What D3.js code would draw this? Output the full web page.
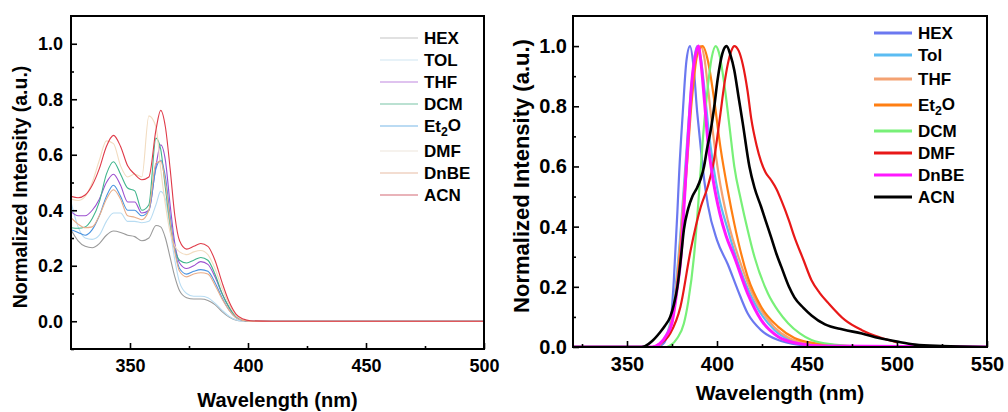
<!DOCTYPE html>
<html>
<head>
<meta charset="UTF-8">
<title>Absorption / emission</title>
<script src="https://d3js.org/d3.v7.min.js"></script>
<style>
body { margin: 0; background: #fff; }
text { font-family: "Liberation Sans", Arial, sans-serif; font-weight: bold; fill: #000; }
</style>
</head>
<body>
<svg width="1008" height="412"></svg>
<script>
// ---- left panel: absorption (wavelength grid shared by all solvents)
var absWl = [325,328,331,334,337,340,343,346,349,352,355,358,361,363,365,367,369,371,374,377,380,383,386,389,392,395,398,401,410,450,500];
var absHEX = [0.33,0.29,0.27,0.265,0.28,0.31,0.325,0.32,0.31,0.305,0.29,0.30,0.345,0.34,0.30,0.23,0.16,0.11,0.085,0.08,0.08,0.075,0.06,0.035,0.015,0.004,0.001,0,0,0,0];
var absTOL = [0.43,0.34,0.30,0.295,0.31,0.36,0.39,0.39,0.36,0.36,0.355,0.36,0.42,0.468,0.44,0.33,0.22,0.14,0.10,0.09,0.09,0.085,0.065,0.04,0.018,0.005,0.001,0,0,0,0];
var absTHF = [0.395,0.38,0.38,0.40,0.44,0.50,0.53,0.49,0.43,0.43,0.39,0.40,0.56,0.636,0.58,0.42,0.28,0.21,0.19,0.20,0.215,0.205,0.16,0.10,0.05,0.015,0.004,0,0,0,0];
var absDCM = [0.337,0.335,0.34,0.37,0.43,0.53,0.575,0.53,0.48,0.47,0.40,0.42,0.66,0.62,0.48,0.35,0.26,0.22,0.21,0.22,0.23,0.22,0.17,0.10,0.05,0.015,0.004,0,0,0,0];
var absEt2O = [0.33,0.32,0.31,0.33,0.38,0.45,0.49,0.45,0.40,0.40,0.38,0.40,0.55,0.58,0.52,0.38,0.26,0.19,0.17,0.18,0.186,0.18,0.14,0.085,0.04,0.012,0.003,0,0,0,0];
var absDMF = [0.44,0.435,0.45,0.50,0.58,0.65,0.64,0.56,0.52,0.53,0.52,0.74,0.70,0.55,0.42,0.32,0.27,0.25,0.24,0.25,0.255,0.24,0.19,0.12,0.06,0.02,0.005,0,0,0,0];
var absDnBE = [0.373,0.35,0.337,0.34,0.38,0.44,0.474,0.44,0.38,0.375,0.366,0.40,0.57,0.576,0.50,0.36,0.25,0.18,0.16,0.17,0.175,0.17,0.13,0.08,0.04,0.012,0.003,0,0,0,0];
var absACN = [0.45,0.445,0.455,0.49,0.55,0.63,0.67,0.63,0.56,0.53,0.51,0.52,0.69,0.76,0.70,0.55,0.38,0.29,0.26,0.27,0.28,0.27,0.22,0.14,0.07,0.025,0.008,0.002,0,0,0];
var absNames = ["HEX","TOL","THF","DCM","Et2O","DMF","DnBE","ACN"];
var absColors = ["#9a9a9a","#b8dcf2","#9c4fcf","#3fb58c","#4a93e0","#f2dcc0","#e9ad88","#df3a48"];
var absLegend = ["#c4c4c4","#cfe6f2","#c088e0","#78c4a6","#78b8e8","#ede6dc","#e8bca4","#d46874"];

// ---- right panel: emission, [wavelength, intensity]
var emHEX = [[320,0],[366,0],[370,0.01],[372,0.03],[374,0.067],[376,0.22],[378,0.45],[379,0.58],[381,0.78],[383,0.95],[385,1.0],[387,0.93],[389,0.78],[390,0.72],[393,0.55],[395,0.47],[400,0.355],[406,0.275],[411.5,0.19],[417,0.112],[424.5,0.056],[434,0.023],[445,0.008],[460,0.002],[480,0],[550,0]];
var emTol = [[320,0],[366,0],[370,0.02],[374,0.08],[377,0.2],[380,0.4],[383,0.65],[386,0.88],[388,0.98],[389,1.0],[391,0.96],[393,0.86],[395,0.74],[398,0.6],[401,0.5],[406,0.39],[413,0.256],[421,0.145],[432,0.056],[440,0.025],[450,0.01],[470,0.002],[550,0]];
var emTHF = [[320,0],[366,0],[370,0.02],[374,0.07],[377,0.18],[380,0.38],[383,0.62],[386,0.85],[389,0.98],[391,1.0],[393,0.96],[395,0.86],[398,0.7],[401,0.57],[406,0.42],[413,0.28],[421,0.16],[432,0.065],[440,0.03],[450,0.012],[470,0.003],[550,0]];
var emEt2O = [[320,0],[366,0],[370,0.02],[374,0.06],[377,0.16],[380,0.35],[383,0.58],[386,0.82],[389,0.97],[392,1.0],[395,0.95],[398,0.84],[402,0.66],[406,0.52],[409.6,0.41],[417,0.234],[424.5,0.134],[434,0.067],[443,0.03],[455,0.012],[470,0.004],[500,0],[550,0]];
var emDCM = [[320,0],[372,0],[374,0.005],[378,0.03],[381.6,0.078],[384,0.15],[387.2,0.3],[390,0.51],[392,0.68],[394.7,0.854],[397,0.96],[399.3,1.0],[401,0.98],[404,0.876],[407,0.73],[409.6,0.6],[413.3,0.488],[417,0.39],[420.8,0.3],[428.3,0.178],[434,0.12],[439.5,0.079],[446,0.045],[452.5,0.023],[465,0.008],[480,0.002],[550,0]];
var emDMF = [[320,0],[364,0],[368,0.01],[374,0.045],[379.7,0.134],[385.3,0.32],[391,0.466],[394.7,0.53],[398,0.61],[400,0.69],[402,0.78],[404,0.87],[406,0.94],[408,0.985],[409.6,1.0],[412,0.985],[414.3,0.94],[417,0.85],[419,0.76],[422,0.67],[424.5,0.616],[427,0.58],[430,0.555],[433,0.525],[435.7,0.488],[440,0.42],[443,0.366],[448,0.29],[452.5,0.222],[457,0.18],[462,0.145],[471,0.09],[480.5,0.056],[490,0.033],[500,0.015]];
var emDnBE = [[320,0],[364,0],[368,0.01],[372,0.04],[375,0.08],[378,0.2],[380,0.3],[382,0.5],[384,0.7],[386,0.88],[388,0.97],[389.6,1.0],[391,0.95],[393,0.82],[395,0.68],[398,0.55],[401.6,0.443],[405,0.37],[409.6,0.3],[417,0.178],[424.5,0.09],[434,0.034],[445,0.012],[460,0.003],[550,0]];
var emACN = [[320,0],[358,0],[360,0.003],[364,0.02],[368.5,0.05],[371,0.07],[374,0.10],[376,0.14],[378,0.20],[380,0.3],[381.6,0.39],[384,0.46],[386.3,0.5],[389,0.53],[391,0.56],[392.8,0.6],[394.5,0.66],[396.5,0.72],[398.5,0.8],[400.3,0.887],[403,0.976],[405.3,1.0],[407.5,0.97],[409.6,0.92],[412,0.83],[414.3,0.744],[418,0.6],[420.8,0.53],[424.5,0.466],[427,0.42],[430,0.366],[433,0.31],[435.7,0.267],[440,0.2],[443,0.165],[448,0.13],[452.5,0.105],[460,0.075],[470,0.058],[480.5,0.045],[490,0.03],[500,0.018],[510,0.008],[525,0.003],[550,0]];
var emNames = ["HEX","Tol","THF","Et2O","DCM","DMF","DnBE","ACN"];
var emColors = ["#6b78f0","#5bbcf2","#f4a272","#ff7f12","#78f078","#e81818","#ff18ff","#000000"];
var emWidths = [2.2,2.2,2.2,2.2,2.2,2.2,3,2.6];

var absTicksX = [350,400,450,500], absMinorX = [375,425,475];
var absTicksY = [0,0.2,0.4,0.6,0.8,1.0], absMinorY = [-0.1,0.1,0.3,0.5,0.7,0.9];
var emTicksX = [350,400,450,500,550], emMinorX = [325,375,425,475,525];
var emTicksY = [0,0.2,0.4,0.6,0.8,1.0], emMinorY = [0.1,0.3,0.5,0.7,0.9];

var svg = d3.select("svg");

function subLabel(sel, name) {
  // Et2O with subscript 2
  if (name == "Et2O") {
    sel.append("tspan").text("Et");
    sel.append("tspan").text("2").attr("font-size", "0.72em").attr("dy", "0.3em");
    sel.append("tspan").text("O").attr("dy", "-0.3em");
  } else sel.text(name);
}

function panel(o) {
  var x = d3.scaleLinear().domain(o.xdom).range([o.left, o.right]);
  var y = d3.scaleLinear().domain(o.ydom).range([o.bottom, o.top]);
  var g = svg.append("g");

  var line = d3.line().x(function(d){ return x(d[0]); }).y(function(d){ return y(d[1]); }).curve(d3.curveMonotoneX);
  var clip = "clip" + o.id;
  svg.append("clipPath").attr("id", clip).append("rect")
    .attr("x", o.left).attr("y", o.top).attr("width", o.right - o.left).attr("height", o.bottom - o.top);
  g.append("g").attr("clip-path", "url(#" + clip + ")")
    .selectAll("path").data(o.series).enter().append("path")
    .attr("d", function(d){ return line(d); })
    .attr("fill", "none")
    .attr("stroke", function(d, i){ return o.colors[i]; })
    .attr("stroke-width", function(d, i){ return o.lw[i]; })
    .attr("stroke-linejoin", "round");

  var ax = g.append("g").attr("transform", "translate(0," + o.bottom + ")")
    .call(d3.axisBottom(x).tickValues(o.tx).tickSize(-6).tickSizeOuter(0).tickPadding(o.xpad).tickFormat(d3.format("d")));
  g.append("g").attr("transform", "translate(0," + o.bottom + ")")
    .call(d3.axisBottom(x).tickValues(o.mx).tickSize(-3).tickSizeOuter(0).tickFormat(""));
  var ay = g.append("g").attr("transform", "translate(" + o.left + ",0)")
    .call(d3.axisLeft(y).tickValues(o.ty).tickSize(-6).tickSizeOuter(0).tickPadding(o.ypad).tickFormat(d3.format(".1f")));
  g.append("g").attr("transform", "translate(" + o.left + ",0)")
    .call(d3.axisLeft(y).tickValues(o.my).tickSize(-3).tickSizeOuter(0).tickFormat(""));
  g.selectAll(".domain").remove();
  g.selectAll(".tick line").attr("stroke", "#000").attr("stroke-width", 1.6);
  ax.selectAll("text").attr("font-size", o.tickFs).attr("font-family", null);
  ay.selectAll("text").attr("font-size", o.tickFs).attr("font-family", null);

  g.append("rect").attr("x", o.left).attr("y", o.top)
    .attr("width", o.right - o.left).attr("height", o.bottom - o.top)
    .attr("fill", "none").attr("stroke", "#000").attr("stroke-width", 2);

  g.append("text").text("Wavelength (nm)")
    .attr("x", (o.left + o.right) / 2).attr("y", o.xTitleY)
    .attr("text-anchor", "middle").attr("font-size", o.xTitleFs);
  g.append("text").text("Normalized Intensity (a.u.)")
    .attr("transform", "translate(" + o.yTitleX + "," + o.yTitleC + ") rotate(-90)")
    .attr("text-anchor", "middle").attr("dy", "0.35em").attr("font-size", o.yTitleFs);

  // legend
  var lg = g.append("g");
  o.names.forEach(function(n, i){
    var yy = o.legY(i);
    lg.append("line").attr("x1", o.legX).attr("x2", o.legX + o.legLen)
      .attr("y1", yy).attr("y2", yy)
      .attr("stroke", o.legColors[i]).attr("stroke-width", o.legLw);
    var t = lg.append("text").attr("x", o.legX + o.legLen + 6).attr("y", yy)
      .attr("dy", "0.36em").attr("font-size", o.legFs);
    subLabel(t, n);
  });
}

panel({
  id: "a", left: 71, right: 484, top: 16, bottom: 349,
  xdom: [325, 500], ydom: [-0.1, 1.1],
  series: [absHEX, absTOL, absTHF, absDCM, absEt2O, absDMF, absDnBE, absACN].map(function(s){
    return s.map(function(v, i){ return [absWl[i], v]; });
  }),
  colors: absColors, lw: absNames.map(function(){ return 1.1; }),
  tx: absTicksX, mx: absMinorX, ty: absTicksY, my: absMinorY,
  xpad: 10, ypad: 8, tickFs: 18,
  xTitleY: 407, xTitleFs: 20, yTitleX: 20, yTitleC: 187, yTitleFs: 19.5,
  names: absNames, legColors: absLegend, legLw: 1.2,
  legX: 380, legLen: 38, legFs: 17,
  legY: function(i){ return 38 + i * 22 + (i >= 5 ? 3 : 0); }
});

panel({
  id: "b", left: 573, right: 987, top: 16, bottom: 347,
  xdom: [320, 550], ydom: [0, 1.1],
  series: [emHEX, emTol, emTHF, emEt2O, emDCM, emDMF, emDnBE, emACN],
  colors: emColors, lw: emWidths,
  tx: emTicksX, mx: emMinorX, ty: emTicksY, my: emMinorY,
  xpad: 10, ypad: 6, tickFs: 20,
  xTitleY: 400, xTitleFs: 21, yTitleX: 521, yTitleC: 176, yTitleFs: 22,
  names: emNames, legColors: emColors, legLw: 3,
  legX: 874, legLen: 38, legFs: 17,
  legY: function(i){ return 33 + i * 22 + (i >= 2 ? 2 : 0) + (i >= 3 ? 4 : 0) + (i >= 4 ? 4 : 0); }
});
</script>
</body>
</html>
